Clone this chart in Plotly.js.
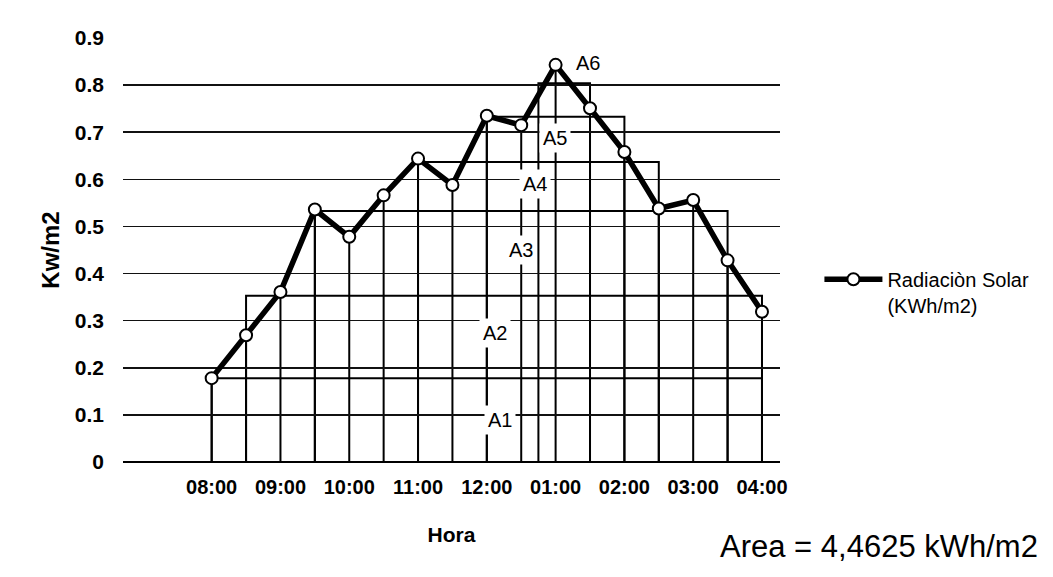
<!DOCTYPE html>
<html><head><meta charset="utf-8">
<script src="https://cdn.plot.ly/plotly-3.0.1.min.js"></script>
<style>html,body{margin:0;padding:0;background:#fff}</style>
</head><body>
<div id="chart" style="width:1053px;height:577px"></div>
<script>
// Data
const horas = [8, 8.5, 9, 9.5, 10, 10.5, 11, 11.5, 12, 12.5, 13, 13.5, 14, 14.5, 15, 15.5, 16];
const radiacion = [0.178, 0.269, 0.361, 0.536, 0.478, 0.566, 0.644, 0.588, 0.735, 0.715, 0.843, 0.751, 0.658, 0.538, 0.556, 0.428, 0.319];
const tickHoras = [8, 9, 10, 11, 12, 13, 14, 15, 16];
const tickTexto = ["08:00", "09:00", "10:00", "11:00", "12:00", "01:00", "02:00", "03:00", "04:00"];
const areaNombres = ["A1", "A2", "A3", "A4", "A5", "A6"];
const areaInicio = [8, 8.5, 9.5, 11, 12, 12.75];
const areaFin = [16, 16, 15.5, 14.5, 14, 13.5];
const areaAltura = [0.178, 0.353, 0.533, 0.637, 0.733, 0.804];
const etiquetaX = [12.19, 12.12, 12.5, 12.7, 12.99, 13.47];
const etiquetaY = [0.089, 0.273, 0.45, 0.591, 0.687, 0.846];
const serieNombre = "Radiaciòn Solar<br>(KWh/m2)";
const areaTexto = "Area = 4,4625 kWh/m2";

const shapes = [];
areaNombres.forEach((n, i) => {
  shapes.push({type: 'rect', xref: 'x', yref: 'y', x0: areaInicio[i], x1: areaFin[i], y0: 0, y1: areaAltura[i],
    line: {color: '#000', width: 2}, fillcolor: 'rgba(0,0,0,0)', layer: 'below'});
});
horas.forEach((h, i) => {
  shapes.push({type: 'line', xref: 'x', yref: 'y', x0: h, x1: h, y0: 0, y1: radiacion[i],
    line: {color: '#000', width: 2}, layer: 'below'});
});

const annotations = areaNombres.map((n, i) => ({
  x: etiquetaX[i], y: etiquetaY[i], xref: 'x', yref: 'y', text: n, showarrow: false,
  font: {family: 'Liberation Sans, Arial, sans-serif', size: 20, color: '#000'},
  bgcolor: '#fff', borderpad: 3
}));
annotations.push({
  x: 0.906, y: -0.199, xref: 'paper', yref: 'paper', xanchor: 'left', yanchor: 'middle',
  text: areaTexto, showarrow: false,
  font: {family: 'Liberation Sans, Arial, sans-serif', size: 31, color: '#000'}
});

const trace = {
  x: horas, y: radiacion, type: 'scatter', mode: 'lines+markers', name: serieNombre,
  line: {color: '#000', width: 5.5},
  marker: {symbol: 'circle', size: 12, color: '#fff', line: {color: '#000', width: 2}},
  cliponaxis: false
};

const layout = {
  width: 1053, height: 577,
  margin: {l: 123, r: 273, t: 38, b: 115, pad: 0},
  paper_bgcolor: '#fff', plot_bgcolor: '#fff',
  font: {family: 'Liberation Sans, Arial, sans-serif', color: '#000'},
  xaxis: {
    range: [6.711, 16.262], tickvals: tickHoras, ticktext: tickTexto,
    showgrid: false, zeroline: false, showline: false, ticks: '',
    ticklabelstandoff: 11,
    tickfont: {size: 20, weight: 'bold', color: '#000'},
    title: {text: 'Hora', font: {size: 21, weight: 'bold', color: '#000'}, standoff: 30}
  },
  yaxis: {
    range: [0, 0.9], dtick: 0.1, tick0: 0,
    showgrid: true, gridcolor: '#111', gridwidth: 1.5,
    zeroline: true, zerolinecolor: '#000', zerolinewidth: 2,
    showline: false, ticks: '', ticklabelstandoff: 18,
    tickformat: '.1~f',
    tickfont: {size: 21, weight: 'bold', color: '#000'},
    title: {text: 'Kw/m2', font: {size: 24, weight: 'bold', color: '#000'}, standoff: 8}
  },
  showlegend: true,
  legend: {
    x: 1.06, y: 0.477, xanchor: 'left', yanchor: 'top', valign: 'top',
    itemwidth: 58, bgcolor: 'rgba(0,0,0,0)',
    font: {size: 20, color: '#000', family: 'Liberation Sans, Arial, sans-serif'}
  },
  shapes: shapes,
  annotations: annotations
};

Plotly.newPlot('chart', [trace], layout, {displayModeBar: false, staticPlot: true});
</script>
</body></html>
